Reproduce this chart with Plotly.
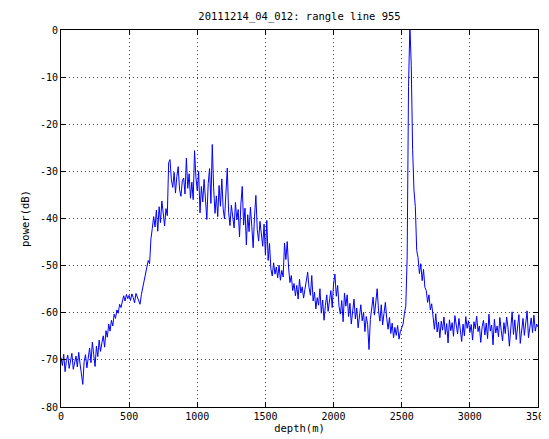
import plotly.graph_objects as go

depth_start = 0
depth_step = 10

power_db = [
    -69.5, -71.2, -68.8, -72.5, -70.1, -69.0, -71.8, -70.4, -68.6, -72.0,
    -70.6, -69.2, -71.5, -68.4, -70.9, -73.1, -75.2, -70.3, -68.9, -71.7,
    -69.8, -67.5, -70.6, -66.2, -68.9, -71.4, -67.1, -69.3, -65.8, -68.2,
    -66.4, -64.9, -67.3, -63.8, -65.2, -62.4, -63.9, -61.6, -62.8, -60.3,
    -61.2, -59.4, -60.1, -58.2, -58.9, -57.3, -56.4, -57.5, -56.1, -57.0,
    -56.3, -57.4, -56.0, -56.8, -57.9, -55.9, -56.6, -57.6, -58.2, -56.1,
    -54.7, -53.2, -51.8, -50.4, -48.9, -49.6, -44.3, -42.1, -39.6, -41.8,
    -38.2, -42.7, -37.5, -40.9, -36.3, -38.8, -41.6, -37.9, -39.4, -28.1,
    -27.5, -31.8, -33.4, -30.2, -34.6, -31.1, -29.0, -33.9, -35.3, -32.0,
    -31.4, -34.8, -27.2, -33.6, -30.5, -35.7, -32.3, -36.0, -25.6, -31.2,
    -34.1, -30.0, -38.8, -33.2, -36.5, -31.7, -35.1, -40.2, -32.6, -29.4,
    -36.8, -24.3, -33.5, -38.9, -35.2, -39.6, -33.0, -37.4, -31.6, -38.0,
    -40.1, -35.4, -29.3, -38.7, -41.5, -37.2, -39.8, -42.0, -36.6, -40.3,
    -38.1, -43.9, -36.9, -33.2, -41.4, -37.8, -45.6, -39.2, -42.8, -37.6,
    -41.7, -46.2, -39.5, -35.1, -42.3, -44.8, -40.6, -43.5, -45.9, -41.2,
    -47.8, -40.4, -48.9, -45.3, -50.7, -52.2, -49.4, -51.8, -50.3, -52.6,
    -49.9, -53.1, -51.0, -52.4, -45.2, -48.7, -44.9, -50.5, -53.6, -52.1,
    -55.3, -53.8, -56.4, -54.2, -57.1, -52.9, -55.8, -54.5, -56.9, -55.0,
    -53.2, -51.4, -54.7, -56.3, -52.1, -57.5, -55.6, -59.2, -56.8, -58.4,
    -54.9, -60.1, -57.3, -61.6, -58.5, -56.2, -59.7, -57.1, -55.3, -58.9,
    -53.9, -51.8, -56.5, -54.2, -58.7, -60.3, -57.4, -61.9, -55.8, -58.6,
    -56.2, -60.8, -58.0, -62.4, -59.5, -57.1, -61.3, -59.0, -63.2, -60.6,
    -58.3, -61.7, -59.9, -64.0, -60.8, -62.5, -67.8, -61.4, -59.2, -56.7,
    -60.5, -57.9, -54.9, -59.6, -61.8, -58.3, -62.6, -60.1, -57.8, -61.2,
    -63.5, -61.0, -64.4, -62.2, -65.3, -63.1, -64.8, -62.7, -65.6, -64.0,
    -63.2, -62.4, -60.1, -58.6, -48.2, -12.0, 1.0, -7.5, -25.3, -34.0,
    -37.5, -46.8, -48.3, -51.7, -49.6, -53.2, -50.8, -54.6, -55.3, -57.8,
    -56.2, -59.4, -58.1, -61.3, -63.5, -60.2, -64.1, -62.0, -65.3, -61.8,
    -63.7, -60.9, -64.6, -62.3, -66.4, -61.5, -63.8, -62.1, -65.0, -60.6,
    -62.9, -64.5, -61.2, -63.6, -66.1, -62.4, -64.9, -60.8, -63.3, -61.7,
    -64.2, -62.5, -65.8, -61.9, -63.4, -60.7, -64.0, -62.8, -66.3, -63.0,
    -61.6, -64.7, -62.2, -65.5, -60.3, -63.9, -62.6, -66.8, -61.4, -64.3,
    -62.8, -65.1, -61.0, -63.7, -66.0, -62.1, -64.4, -60.9, -63.2, -67.1,
    -62.3, -59.8, -64.6, -61.5, -65.7, -62.9, -60.4, -66.5, -63.1, -61.2,
    -64.8, -62.0, -59.6, -65.3, -63.6, -61.1, -64.2, -60.5, -63.9, -62.4,
    -63.0,
]
depth_m = [depth_start + i * depth_step for i in range(len(power_db))]

x_ticks = [0, 500, 1000, 1500, 2000, 2500, 3000, 3500]
y_ticks = [0, -10, -20, -30, -40, -50, -60, -70, -80]

title_text = "20111214_04_012: rangle line 955"
x_label = "depth(m)"
y_label = "power(dB)"

font_family = "DejaVu Sans Mono"

# page body has an 8px margin; the figure is offset by it
W, H = 549, 431

fig = go.Figure()
fig.add_trace(go.Scatter(
    x=depth_m, y=power_db, mode="lines",
    line=dict(color="#0000ff", width=1),
    showlegend=False,
))

axis_common = dict(
    showline=True, linecolor="black", linewidth=1, mirror="ticks",
    ticks="inside", ticklen=5, tickcolor="black", tickwidth=1,
    showgrid=True, gridcolor="#444444", gridwidth=1, griddash="1px,3px",
    zeroline=False, automargin=False, ticklabeloverflow="allow",
    tickfont=dict(family=font_family, size=10, color="black"),
)

fig.update_layout(
    width=W, height=H,
    margin=dict(l=53, r=19, t=22, b=32),
    paper_bgcolor="white", plot_bgcolor="white",
    title=dict(text=title_text, x=0.5, xanchor="center", xref="paper",
               y=1 - 8 / H, yanchor="middle", yref="container",
               automargin=False,
               font=dict(family=font_family, size=10.5, color="black")),
    xaxis=dict(range=[0, 3500], tickvals=x_ticks,
               ticktext=[str(v) for v in x_ticks],
               title=dict(text=x_label, standoff=1,
                          font=dict(family=font_family, size=10.5, color="black")),
               **axis_common),
    yaxis=dict(range=[-80, 0], tickvals=y_ticks,
               ticktext=[str(v) for v in y_ticks],
               title=dict(text=y_label, standoff=8,
                          font=dict(family=font_family, size=10.5, color="black")),
               **axis_common),
)

fig.write_html("out.html")
